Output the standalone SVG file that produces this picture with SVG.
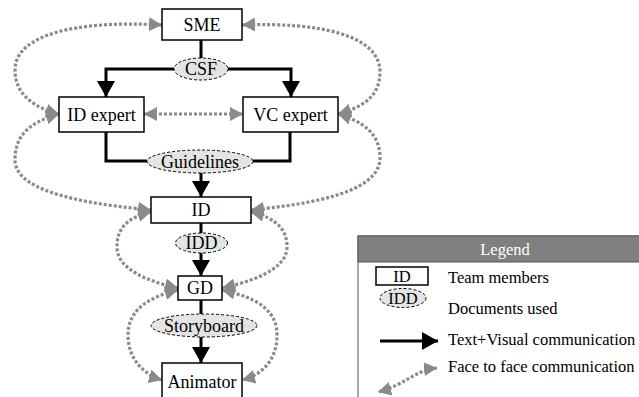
<svg xmlns="http://www.w3.org/2000/svg" width="639" height="397" viewBox="0 0 639 397">
<style>
.box{fill:#fff;stroke:#000;stroke-width:1.5}
.doc{fill:#e4e4e4;stroke:#000;stroke-width:1;stroke-dasharray:3,2}
.flow{fill:none;stroke:#000;stroke-width:3}
.f2f{fill:none;stroke:#8a8a8a;stroke-width:3.2;stroke-dasharray:3,2}
text{font-family:'Liberation Serif','Times New Roman','DejaVu Serif',serif}
.lbl{font-size:18px;text-anchor:middle;fill:#000}
.leg{font-size:16.5px;fill:#000}
</style>
<defs>
<marker id="ab" viewBox="0 0 16 18" refX="16" refY="9" markerWidth="16" markerHeight="18" markerUnits="userSpaceOnUse" orient="auto"><path d="M0,0 L16,9 L0,18 z" fill="#000"/></marker>
<marker id="ag" viewBox="0 0 13 14" refX="13" refY="7" markerWidth="13" markerHeight="14" markerUnits="userSpaceOnUse" orient="auto-start-reverse"><path d="M0,0 L13,7 L0,14 z" fill="#8a8a8a"/></marker>
</defs>
<g id="connectors">
<path class="flow" d="M201,40 V58"/>
<path class="flow" d="M174,69 H106 V97" marker-end="url(#ab)"/>
<path class="flow" d="M228,69 H291 V97" marker-end="url(#ab)"/>
<path class="flow" d="M106,132 V161 H147"/>
<path class="flow" d="M290,132 V161 H252"/>
<path class="flow" d="M201,173 V197" marker-end="url(#ab)"/>
<path class="flow" d="M201,223 V233"/>
<path class="flow" d="M201,253 V276" marker-end="url(#ab)"/>
<path class="flow" d="M201,300 V314"/>
<path class="flow" d="M201,337 V363" marker-end="url(#ab)"/>
<path class="f2f" d="M162,25 C75,20 15,35 15,70 C15,95 35,108 59,114" marker-start="url(#ag)" marker-end="url(#ag)"/>
<path class="f2f" d="M242,25 C320,22 380,35 380,72 C380,98 360,108 338,114" marker-start="url(#ag)" marker-end="url(#ag)"/>
<path class="f2f" d="M144,114 H243" marker-start="url(#ag)" marker-end="url(#ag)"/>
<path class="f2f" d="M59,114 C30,122 15,135 15,160 C15,195 100,205 151,210" marker-start="url(#ag)" marker-end="url(#ag)"/>
<path class="f2f" d="M338,114 C365,122 380,135 380,158 C380,195 300,205 251,210" marker-start="url(#ag)" marker-end="url(#ag)"/>
<path class="f2f" d="M151,212 C125,218 117,230 117,247 C117,270 150,282 178,288" marker-start="url(#ag)" marker-end="url(#ag)"/>
<path class="f2f" d="M251,212 C277,218 287,230 287,247 C287,270 250,282 222,288" marker-start="url(#ag)" marker-end="url(#ag)"/>
<path class="f2f" d="M178,290 C145,298 128,312 128,335 C128,360 145,375 162,380" marker-start="url(#ag)" marker-end="url(#ag)"/>
<path class="f2f" d="M222,290 C260,298 277,312 277,335 C277,360 262,375 242,380" marker-start="url(#ag)" marker-end="url(#ag)"/>
</g>
<g id="SME"><rect class="box" x="162" y="9" width="80" height="31"/><text class="lbl" x="202" y="31">SME</text></g>
<g id="CSF"><ellipse class="doc" cx="201" cy="69" rx="27" ry="11"/><text class="lbl" x="201" y="75">CSF</text></g>
<g id="IDexpert"><rect class="box" x="59" y="97" width="85" height="35"/><text class="lbl" x="101.5" y="121">ID expert</text></g>
<g id="VCexpert"><rect class="box" x="243" y="97" width="95" height="35"/><text class="lbl" x="290.5" y="121">VC expert</text></g>
<g id="Guidelines"><ellipse class="doc" cx="200" cy="161.5" rx="53" ry="11.5"/><text class="lbl" x="200" y="167.5">Guidelines</text></g>
<g id="ID"><rect class="box" x="151" y="197" width="100" height="26"/><text class="lbl" x="201" y="216">ID</text></g>
<g id="IDD"><ellipse class="doc" cx="201.5" cy="243" rx="26" ry="10"/><text class="lbl" x="201.5" y="249">IDD</text></g>
<g id="GD"><rect class="box" x="178" y="276" width="44" height="24"/><text class="lbl" x="200" y="294">GD</text></g>
<g id="Storyboard"><ellipse class="doc" cx="204" cy="325.5" rx="53" ry="11.5"/><text class="lbl" x="204" y="331.5">Storyboard</text></g>
<g id="Animator"><rect class="box" x="162" y="363" width="80" height="40"/><text class="lbl" x="202" y="387.5">Animator</text></g>
<g id="legend">
<rect x="358" y="236" width="320" height="200" fill="#fff" stroke="#555" stroke-width="1"/>
<rect x="358" y="236" width="320" height="26" fill="#808080" stroke="#555" stroke-width="1"/>
<text class="leg" x="505" y="255" text-anchor="middle" style="fill:#fff">Legend</text>
<rect class="box" x="376" y="267" width="52" height="18"/>
<text class="leg" x="402" y="282" text-anchor="middle">ID</text>
<text class="leg" x="448" y="283">Team members</text>
<ellipse class="doc" cx="403" cy="298" rx="23" ry="9.5"/>
<text class="leg" x="403" y="304" text-anchor="middle">IDD</text>
<text class="leg" x="448" y="314">Documents used</text>
<path class="flow" d="M380,341 H438" marker-end="url(#ab)"/>
<text class="leg" x="448" y="345">Text+Visual communication</text>
<path class="f2f" d="M437,368 C415,370 405,385 378,392" marker-start="url(#ag)" marker-end="url(#ag)"/>
<text class="leg" x="448" y="372">Face to face communication</text>
</g>
</svg>
